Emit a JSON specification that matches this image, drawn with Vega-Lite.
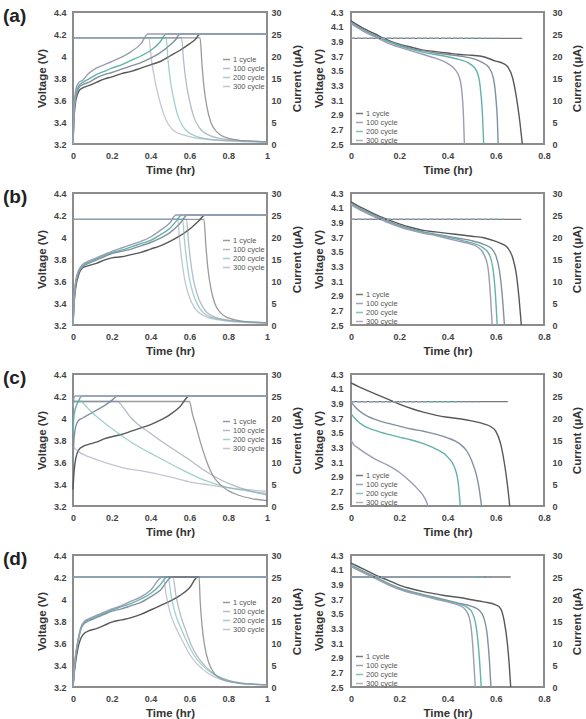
{
"$schema":"https://vega.github.io/schema/vega-lite/v6.json",
"background":"white",
"padding":{"left":2,"top":6,"right":0,"bottom":0},
"config":{
"view":{"stroke":"#8c8c8c","strokeWidth":2},
"axis":{"grid":false,"ticks":false,"domain":false,"labelFlush":false,"labelOverlap":false,"labelFont":"Liberation Sans","labelFontSize":9,"labelFontWeight":"bold","labelColor":"#444","titleFont":"Liberation Sans","titleFontSize":11.5,"titleFontWeight":"bold","titleColor":"#333"},
"legend":{"symbolType":"stroke","symbolSize":50,"symbolStrokeWidth":1.5,"labelFont":"Liberation Sans","labelFontSize":7.5,"labelColor":"#555","labelOffset":2,"rowPadding":1,"padding":0,"titlePadding":0},
"title":{"font":"Liberation Sans","fontSize":19,"fontWeight":"bold","color":"#222"}
},
"data":{"values":[
{"p":"a1","s":1,"k":"V","t":0,"y":3.2},{"p":"a1","s":1,"k":"V","t":0.005,"y":3.42},{"p":"a1","s":1,"k":"V","t":0.015,"y":3.6},{"p":"a1","s":1,"k":"V","t":0.03,"y":3.68},{"p":"a1","s":1,"k":"V","t":0.05,"y":3.71},{"p":"a1","s":1,"k":"V","t":0.08,"y":3.73},{"p":"a1","s":1,"k":"V","t":0.12,"y":3.76},{"p":"a1","s":1,"k":"V","t":0.16,"y":3.79},{"p":"a1","s":1,"k":"V","t":0.2,"y":3.81},{"p":"a1","s":1,"k":"V","t":0.25,"y":3.84},{"p":"a1","s":1,"k":"V","t":0.3,"y":3.86},{"p":"a1","s":1,"k":"V","t":0.35,"y":3.89},{"p":"a1","s":1,"k":"V","t":0.4,"y":3.92},{"p":"a1","s":1,"k":"V","t":0.45,"y":3.95},{"p":"a1","s":1,"k":"V","t":0.5,"y":4.0},{"p":"a1","s":1,"k":"V","t":0.55,"y":4.05},{"p":"a1","s":1,"k":"V","t":0.6,"y":4.11},{"p":"a1","s":1,"k":"V","t":0.63,"y":4.15},{"p":"a1","s":1,"k":"V","t":0.655,"y":4.2},{"p":"a1","s":1,"k":"V","t":1,"y":4.2},
{"p":"a1","s":100,"k":"V","t":0,"y":3.2},{"p":"a1","s":100,"k":"V","t":0.005,"y":3.45},{"p":"a1","s":100,"k":"V","t":0.015,"y":3.63},{"p":"a1","s":100,"k":"V","t":0.03,"y":3.71},{"p":"a1","s":100,"k":"V","t":0.05,"y":3.74},{"p":"a1","s":100,"k":"V","t":0.08,"y":3.76},{"p":"a1","s":100,"k":"V","t":0.12,"y":3.8},{"p":"a1","s":100,"k":"V","t":0.16,"y":3.83},{"p":"a1","s":100,"k":"V","t":0.2,"y":3.85},{"p":"a1","s":100,"k":"V","t":0.25,"y":3.88},{"p":"a1","s":100,"k":"V","t":0.3,"y":3.91},{"p":"a1","s":100,"k":"V","t":0.35,"y":3.94},{"p":"a1","s":100,"k":"V","t":0.4,"y":3.98},{"p":"a1","s":100,"k":"V","t":0.45,"y":4.03},{"p":"a1","s":100,"k":"V","t":0.5,"y":4.1},{"p":"a1","s":100,"k":"V","t":0.53,"y":4.15},{"p":"a1","s":100,"k":"V","t":0.55,"y":4.2},{"p":"a1","s":100,"k":"V","t":1,"y":4.2},
{"p":"a1","s":200,"k":"V","t":0,"y":3.2},{"p":"a1","s":200,"k":"V","t":0.005,"y":3.48},{"p":"a1","s":200,"k":"V","t":0.015,"y":3.66},{"p":"a1","s":200,"k":"V","t":0.03,"y":3.73},{"p":"a1","s":200,"k":"V","t":0.05,"y":3.76},{"p":"a1","s":200,"k":"V","t":0.08,"y":3.79},{"p":"a1","s":200,"k":"V","t":0.12,"y":3.83},{"p":"a1","s":200,"k":"V","t":0.16,"y":3.86},{"p":"a1","s":200,"k":"V","t":0.2,"y":3.89},{"p":"a1","s":200,"k":"V","t":0.25,"y":3.92},{"p":"a1","s":200,"k":"V","t":0.3,"y":3.96},{"p":"a1","s":200,"k":"V","t":0.35,"y":4.0},{"p":"a1","s":200,"k":"V","t":0.4,"y":4.05},{"p":"a1","s":200,"k":"V","t":0.45,"y":4.13},{"p":"a1","s":200,"k":"V","t":0.48,"y":4.2},{"p":"a1","s":200,"k":"V","t":1,"y":4.2},
{"p":"a1","s":300,"k":"V","t":0,"y":3.2},{"p":"a1","s":300,"k":"V","t":0.005,"y":3.5},{"p":"a1","s":300,"k":"V","t":0.015,"y":3.7},{"p":"a1","s":300,"k":"V","t":0.03,"y":3.76},{"p":"a1","s":300,"k":"V","t":0.05,"y":3.78},{"p":"a1","s":300,"k":"V","t":0.08,"y":3.84},{"p":"a1","s":300,"k":"V","t":0.12,"y":3.89},{"p":"a1","s":300,"k":"V","t":0.16,"y":3.92},{"p":"a1","s":300,"k":"V","t":0.2,"y":3.95},{"p":"a1","s":300,"k":"V","t":0.25,"y":3.99},{"p":"a1","s":300,"k":"V","t":0.3,"y":4.04},{"p":"a1","s":300,"k":"V","t":0.35,"y":4.11},{"p":"a1","s":300,"k":"V","t":0.387,"y":4.2},{"p":"a1","s":300,"k":"V","t":1,"y":4.2},
{"p":"a1","s":1,"k":"I","t":0,"y":24.1},{"p":"a1","s":1,"k":"I","t":0.655,"y":24.1},{"p":"a1","s":1,"k":"I","t":0.665,"y":18},{"p":"a1","s":1,"k":"I","t":0.675,"y":13},{"p":"a1","s":1,"k":"I","t":0.69,"y":8.5},{"p":"a1","s":1,"k":"I","t":0.71,"y":5},{"p":"a1","s":1,"k":"I","t":0.74,"y":2.8},{"p":"a1","s":1,"k":"I","t":0.78,"y":1.6},{"p":"a1","s":1,"k":"I","t":0.85,"y":0.9},{"p":"a1","s":1,"k":"I","t":1,"y":0.5},
{"p":"a1","s":100,"k":"I","t":0,"y":24.1},{"p":"a1","s":100,"k":"I","t":0.56,"y":24.1},{"p":"a1","s":100,"k":"I","t":0.57,"y":19},{"p":"a1","s":100,"k":"I","t":0.58,"y":15},{"p":"a1","s":100,"k":"I","t":0.6,"y":10},{"p":"a1","s":100,"k":"I","t":0.62,"y":6.5},{"p":"a1","s":100,"k":"I","t":0.65,"y":3.8},{"p":"a1","s":100,"k":"I","t":0.7,"y":2},{"p":"a1","s":100,"k":"I","t":0.78,"y":1.1},{"p":"a1","s":100,"k":"I","t":0.9,"y":0.7},{"p":"a1","s":100,"k":"I","t":1,"y":0.5},
{"p":"a1","s":200,"k":"I","t":0,"y":24.1},{"p":"a1","s":200,"k":"I","t":0.48,"y":24.1},{"p":"a1","s":200,"k":"I","t":0.49,"y":19},{"p":"a1","s":200,"k":"I","t":0.5,"y":15},{"p":"a1","s":200,"k":"I","t":0.52,"y":10},{"p":"a1","s":200,"k":"I","t":0.54,"y":6.5},{"p":"a1","s":200,"k":"I","t":0.57,"y":3.8},{"p":"a1","s":200,"k":"I","t":0.62,"y":2},{"p":"a1","s":200,"k":"I","t":0.7,"y":1.1},{"p":"a1","s":200,"k":"I","t":0.85,"y":0.7},{"p":"a1","s":200,"k":"I","t":1,"y":0.5},
{"p":"a1","s":300,"k":"I","t":0,"y":24.1},{"p":"a1","s":300,"k":"I","t":0.39,"y":24.1},{"p":"a1","s":300,"k":"I","t":0.405,"y":19},{"p":"a1","s":300,"k":"I","t":0.42,"y":15},{"p":"a1","s":300,"k":"I","t":0.44,"y":11},{"p":"a1","s":300,"k":"I","t":0.47,"y":6.5},{"p":"a1","s":300,"k":"I","t":0.52,"y":3},{"p":"a1","s":300,"k":"I","t":0.59,"y":1.8},{"p":"a1","s":300,"k":"I","t":0.7,"y":1},{"p":"a1","s":300,"k":"I","t":0.85,"y":0.6},{"p":"a1","s":300,"k":"I","t":1,"y":0.45},

{"p":"a2","s":1,"k":"V","t":0,"y":4.18},{"p":"a2","s":1,"k":"V","t":0.05,"y":4.08},{"p":"a2","s":1,"k":"V","t":0.1,"y":4.0},{"p":"a2","s":1,"k":"V","t":0.15,"y":3.92},{"p":"a2","s":1,"k":"V","t":0.2,"y":3.86},{"p":"a2","s":1,"k":"V","t":0.25,"y":3.82},{"p":"a2","s":1,"k":"V","t":0.3,"y":3.78},{"p":"a2","s":1,"k":"V","t":0.35,"y":3.76},{"p":"a2","s":1,"k":"V","t":0.4,"y":3.74},{"p":"a2","s":1,"k":"V","t":0.45,"y":3.72},{"p":"a2","s":1,"k":"V","t":0.5,"y":3.71},{"p":"a2","s":1,"k":"V","t":0.55,"y":3.69},{"p":"a2","s":1,"k":"V","t":0.6,"y":3.63},{"p":"a2","s":1,"k":"V","t":0.63,"y":3.6},{"p":"a2","s":1,"k":"V","t":0.65,"y":3.55},{"p":"a2","s":1,"k":"V","t":0.67,"y":3.4},{"p":"a2","s":1,"k":"V","t":0.685,"y":3.15},{"p":"a2","s":1,"k":"V","t":0.7,"y":2.8},{"p":"a2","s":1,"k":"V","t":0.71,"y":2.5},
{"p":"a2","s":100,"k":"V","t":0,"y":4.16},{"p":"a2","s":100,"k":"V","t":0.05,"y":4.06},{"p":"a2","s":100,"k":"V","t":0.1,"y":3.98},{"p":"a2","s":100,"k":"V","t":0.15,"y":3.91},{"p":"a2","s":100,"k":"V","t":0.2,"y":3.85},{"p":"a2","s":100,"k":"V","t":0.25,"y":3.8},{"p":"a2","s":100,"k":"V","t":0.3,"y":3.77},{"p":"a2","s":100,"k":"V","t":0.35,"y":3.74},{"p":"a2","s":100,"k":"V","t":0.4,"y":3.72},{"p":"a2","s":100,"k":"V","t":0.45,"y":3.7},{"p":"a2","s":100,"k":"V","t":0.5,"y":3.67},{"p":"a2","s":100,"k":"V","t":0.54,"y":3.62},{"p":"a2","s":100,"k":"V","t":0.57,"y":3.55},{"p":"a2","s":100,"k":"V","t":0.59,"y":3.4},{"p":"a2","s":100,"k":"V","t":0.6,"y":3.15},{"p":"a2","s":100,"k":"V","t":0.607,"y":2.8},{"p":"a2","s":100,"k":"V","t":0.61,"y":2.5},
{"p":"a2","s":200,"k":"V","t":0,"y":4.15},{"p":"a2","s":200,"k":"V","t":0.05,"y":4.05},{"p":"a2","s":200,"k":"V","t":0.1,"y":3.97},{"p":"a2","s":200,"k":"V","t":0.15,"y":3.9},{"p":"a2","s":200,"k":"V","t":0.2,"y":3.84},{"p":"a2","s":200,"k":"V","t":0.25,"y":3.79},{"p":"a2","s":200,"k":"V","t":0.3,"y":3.75},{"p":"a2","s":200,"k":"V","t":0.35,"y":3.72},{"p":"a2","s":200,"k":"V","t":0.4,"y":3.69},{"p":"a2","s":200,"k":"V","t":0.45,"y":3.65},{"p":"a2","s":200,"k":"V","t":0.49,"y":3.6},{"p":"a2","s":200,"k":"V","t":0.52,"y":3.5},{"p":"a2","s":200,"k":"V","t":0.535,"y":3.3},{"p":"a2","s":200,"k":"V","t":0.545,"y":2.9},{"p":"a2","s":200,"k":"V","t":0.55,"y":2.5},
{"p":"a2","s":300,"k":"V","t":0,"y":4.14},{"p":"a2","s":300,"k":"V","t":0.05,"y":4.04},{"p":"a2","s":300,"k":"V","t":0.1,"y":3.96},{"p":"a2","s":300,"k":"V","t":0.15,"y":3.88},{"p":"a2","s":300,"k":"V","t":0.2,"y":3.82},{"p":"a2","s":300,"k":"V","t":0.25,"y":3.77},{"p":"a2","s":300,"k":"V","t":0.3,"y":3.72},{"p":"a2","s":300,"k":"V","t":0.35,"y":3.67},{"p":"a2","s":300,"k":"V","t":0.4,"y":3.6},{"p":"a2","s":300,"k":"V","t":0.43,"y":3.52},{"p":"a2","s":300,"k":"V","t":0.45,"y":3.4},{"p":"a2","s":300,"k":"V","t":0.46,"y":3.2},{"p":"a2","s":300,"k":"V","t":0.466,"y":2.9},{"p":"a2","s":300,"k":"V","t":0.47,"y":2.5},
{"p":"a2","s":1,"k":"I","t":0,"y":24},{"p":"a2","s":1,"k":"I","t":0.71,"y":24},
{"p":"a2","s":100,"k":"I","t":0,"y":24},{"p":"a2","s":100,"k":"I","t":0.61,"y":24},
{"p":"a2","s":200,"k":"I","t":0,"y":24},{"p":"a2","s":200,"k":"I","t":0.55,"y":24},
{"p":"a2","s":300,"k":"I","t":0,"y":24},{"p":"a2","s":300,"k":"I","t":0.47,"y":24},

{"p":"b1","s":1,"k":"V","t":0,"y":3.2},{"p":"b1","s":1,"k":"V","t":0.005,"y":3.38},{"p":"b1","s":1,"k":"V","t":0.015,"y":3.55},{"p":"b1","s":1,"k":"V","t":0.03,"y":3.66},{"p":"b1","s":1,"k":"V","t":0.05,"y":3.72},{"p":"b1","s":1,"k":"V","t":0.08,"y":3.74},{"p":"b1","s":1,"k":"V","t":0.12,"y":3.76},{"p":"b1","s":1,"k":"V","t":0.16,"y":3.79},{"p":"b1","s":1,"k":"V","t":0.2,"y":3.81},{"p":"b1","s":1,"k":"V","t":0.25,"y":3.82},{"p":"b1","s":1,"k":"V","t":0.3,"y":3.84},{"p":"b1","s":1,"k":"V","t":0.35,"y":3.86},{"p":"b1","s":1,"k":"V","t":0.4,"y":3.89},{"p":"b1","s":1,"k":"V","t":0.45,"y":3.92},{"p":"b1","s":1,"k":"V","t":0.5,"y":3.96},{"p":"b1","s":1,"k":"V","t":0.55,"y":4.01},{"p":"b1","s":1,"k":"V","t":0.6,"y":4.07},{"p":"b1","s":1,"k":"V","t":0.65,"y":4.15},{"p":"b1","s":1,"k":"V","t":0.68,"y":4.2},{"p":"b1","s":1,"k":"V","t":1,"y":4.2},
{"p":"b1","s":100,"k":"V","t":0,"y":3.2},{"p":"b1","s":100,"k":"V","t":0.005,"y":3.4},{"p":"b1","s":100,"k":"V","t":0.015,"y":3.58},{"p":"b1","s":100,"k":"V","t":0.03,"y":3.68},{"p":"b1","s":100,"k":"V","t":0.05,"y":3.73},{"p":"b1","s":100,"k":"V","t":0.08,"y":3.76},{"p":"b1","s":100,"k":"V","t":0.12,"y":3.79},{"p":"b1","s":100,"k":"V","t":0.16,"y":3.82},{"p":"b1","s":100,"k":"V","t":0.2,"y":3.85},{"p":"b1","s":100,"k":"V","t":0.25,"y":3.87},{"p":"b1","s":100,"k":"V","t":0.3,"y":3.89},{"p":"b1","s":100,"k":"V","t":0.35,"y":3.92},{"p":"b1","s":100,"k":"V","t":0.4,"y":3.95},{"p":"b1","s":100,"k":"V","t":0.45,"y":3.99},{"p":"b1","s":100,"k":"V","t":0.5,"y":4.04},{"p":"b1","s":100,"k":"V","t":0.55,"y":4.12},{"p":"b1","s":100,"k":"V","t":0.59,"y":4.2},{"p":"b1","s":100,"k":"V","t":1,"y":4.2},
{"p":"b1","s":200,"k":"V","t":0,"y":3.2},{"p":"b1","s":200,"k":"V","t":0.005,"y":3.41},{"p":"b1","s":200,"k":"V","t":0.015,"y":3.6},{"p":"b1","s":200,"k":"V","t":0.03,"y":3.69},{"p":"b1","s":200,"k":"V","t":0.05,"y":3.74},{"p":"b1","s":200,"k":"V","t":0.08,"y":3.77},{"p":"b1","s":200,"k":"V","t":0.12,"y":3.8},{"p":"b1","s":200,"k":"V","t":0.16,"y":3.83},{"p":"b1","s":200,"k":"V","t":0.2,"y":3.86},{"p":"b1","s":200,"k":"V","t":0.25,"y":3.88},{"p":"b1","s":200,"k":"V","t":0.3,"y":3.91},{"p":"b1","s":200,"k":"V","t":0.35,"y":3.94},{"p":"b1","s":200,"k":"V","t":0.4,"y":3.97},{"p":"b1","s":200,"k":"V","t":0.45,"y":4.02},{"p":"b1","s":200,"k":"V","t":0.5,"y":4.08},{"p":"b1","s":200,"k":"V","t":0.53,"y":4.14},{"p":"b1","s":200,"k":"V","t":0.56,"y":4.2},{"p":"b1","s":200,"k":"V","t":1,"y":4.2},
{"p":"b1","s":300,"k":"V","t":0,"y":3.2},{"p":"b1","s":300,"k":"V","t":0.005,"y":3.42},{"p":"b1","s":300,"k":"V","t":0.015,"y":3.61},{"p":"b1","s":300,"k":"V","t":0.03,"y":3.7},{"p":"b1","s":300,"k":"V","t":0.05,"y":3.75},{"p":"b1","s":300,"k":"V","t":0.08,"y":3.78},{"p":"b1","s":300,"k":"V","t":0.12,"y":3.81},{"p":"b1","s":300,"k":"V","t":0.16,"y":3.84},{"p":"b1","s":300,"k":"V","t":0.2,"y":3.87},{"p":"b1","s":300,"k":"V","t":0.25,"y":3.9},{"p":"b1","s":300,"k":"V","t":0.3,"y":3.93},{"p":"b1","s":300,"k":"V","t":0.35,"y":3.96},{"p":"b1","s":300,"k":"V","t":0.4,"y":4.0},{"p":"b1","s":300,"k":"V","t":0.45,"y":4.06},{"p":"b1","s":300,"k":"V","t":0.5,"y":4.13},{"p":"b1","s":300,"k":"V","t":0.53,"y":4.2},{"p":"b1","s":300,"k":"V","t":1,"y":4.2},
{"p":"b1","s":1,"k":"I","t":0,"y":24},{"p":"b1","s":1,"k":"I","t":0.675,"y":24},{"p":"b1","s":1,"k":"I","t":0.685,"y":18},{"p":"b1","s":1,"k":"I","t":0.695,"y":13},{"p":"b1","s":1,"k":"I","t":0.71,"y":8.5},{"p":"b1","s":1,"k":"I","t":0.73,"y":5},{"p":"b1","s":1,"k":"I","t":0.76,"y":2.8},{"p":"b1","s":1,"k":"I","t":0.8,"y":1.6},{"p":"b1","s":1,"k":"I","t":0.87,"y":0.9},{"p":"b1","s":1,"k":"I","t":1,"y":0.5},
{"p":"b1","s":100,"k":"I","t":0,"y":24},{"p":"b1","s":100,"k":"I","t":0.585,"y":24},{"p":"b1","s":100,"k":"I","t":0.595,"y":19},{"p":"b1","s":100,"k":"I","t":0.605,"y":15},{"p":"b1","s":100,"k":"I","t":0.62,"y":10.5},{"p":"b1","s":100,"k":"I","t":0.64,"y":7},{"p":"b1","s":100,"k":"I","t":0.67,"y":4},{"p":"b1","s":100,"k":"I","t":0.72,"y":2},{"p":"b1","s":100,"k":"I","t":0.8,"y":1.1},{"p":"b1","s":100,"k":"I","t":0.9,"y":0.7},{"p":"b1","s":100,"k":"I","t":1,"y":0.5},
{"p":"b1","s":200,"k":"I","t":0,"y":24},{"p":"b1","s":200,"k":"I","t":0.565,"y":24},{"p":"b1","s":200,"k":"I","t":0.575,"y":19},{"p":"b1","s":200,"k":"I","t":0.585,"y":15},{"p":"b1","s":200,"k":"I","t":0.6,"y":10.5},{"p":"b1","s":200,"k":"I","t":0.62,"y":7},{"p":"b1","s":200,"k":"I","t":0.65,"y":4},{"p":"b1","s":200,"k":"I","t":0.7,"y":2},{"p":"b1","s":200,"k":"I","t":0.78,"y":1.1},{"p":"b1","s":200,"k":"I","t":0.9,"y":0.7},{"p":"b1","s":200,"k":"I","t":1,"y":0.5},
{"p":"b1","s":300,"k":"I","t":0,"y":24},{"p":"b1","s":300,"k":"I","t":0.54,"y":24},{"p":"b1","s":300,"k":"I","t":0.55,"y":19},{"p":"b1","s":300,"k":"I","t":0.56,"y":15},{"p":"b1","s":300,"k":"I","t":0.575,"y":10.5},{"p":"b1","s":300,"k":"I","t":0.595,"y":7},{"p":"b1","s":300,"k":"I","t":0.625,"y":4},{"p":"b1","s":300,"k":"I","t":0.68,"y":2},{"p":"b1","s":300,"k":"I","t":0.76,"y":1.1},{"p":"b1","s":300,"k":"I","t":0.88,"y":0.6},{"p":"b1","s":300,"k":"I","t":1,"y":0.45},

{"p":"b2","s":1,"k":"V","t":0,"y":4.18},{"p":"b2","s":1,"k":"V","t":0.05,"y":4.09},{"p":"b2","s":1,"k":"V","t":0.1,"y":4.01},{"p":"b2","s":1,"k":"V","t":0.15,"y":3.94},{"p":"b2","s":1,"k":"V","t":0.2,"y":3.88},{"p":"b2","s":1,"k":"V","t":0.25,"y":3.83},{"p":"b2","s":1,"k":"V","t":0.3,"y":3.79},{"p":"b2","s":1,"k":"V","t":0.35,"y":3.77},{"p":"b2","s":1,"k":"V","t":0.4,"y":3.75},{"p":"b2","s":1,"k":"V","t":0.45,"y":3.73},{"p":"b2","s":1,"k":"V","t":0.5,"y":3.71},{"p":"b2","s":1,"k":"V","t":0.55,"y":3.69},{"p":"b2","s":1,"k":"V","t":0.6,"y":3.64},{"p":"b2","s":1,"k":"V","t":0.63,"y":3.6},{"p":"b2","s":1,"k":"V","t":0.65,"y":3.55},{"p":"b2","s":1,"k":"V","t":0.67,"y":3.42},{"p":"b2","s":1,"k":"V","t":0.685,"y":3.2},{"p":"b2","s":1,"k":"V","t":0.697,"y":2.85},{"p":"b2","s":1,"k":"V","t":0.706,"y":2.5},
{"p":"b2","s":100,"k":"V","t":0,"y":4.16},{"p":"b2","s":100,"k":"V","t":0.05,"y":4.07},{"p":"b2","s":100,"k":"V","t":0.1,"y":3.99},{"p":"b2","s":100,"k":"V","t":0.15,"y":3.92},{"p":"b2","s":100,"k":"V","t":0.2,"y":3.86},{"p":"b2","s":100,"k":"V","t":0.25,"y":3.81},{"p":"b2","s":100,"k":"V","t":0.3,"y":3.77},{"p":"b2","s":100,"k":"V","t":0.35,"y":3.74},{"p":"b2","s":100,"k":"V","t":0.4,"y":3.71},{"p":"b2","s":100,"k":"V","t":0.45,"y":3.68},{"p":"b2","s":100,"k":"V","t":0.5,"y":3.65},{"p":"b2","s":100,"k":"V","t":0.55,"y":3.6},{"p":"b2","s":100,"k":"V","t":0.58,"y":3.55},{"p":"b2","s":100,"k":"V","t":0.6,"y":3.45},{"p":"b2","s":100,"k":"V","t":0.615,"y":3.25},{"p":"b2","s":100,"k":"V","t":0.627,"y":2.9},{"p":"b2","s":100,"k":"V","t":0.636,"y":2.5},
{"p":"b2","s":200,"k":"V","t":0,"y":4.15},{"p":"b2","s":200,"k":"V","t":0.05,"y":4.06},{"p":"b2","s":200,"k":"V","t":0.1,"y":3.98},{"p":"b2","s":200,"k":"V","t":0.15,"y":3.91},{"p":"b2","s":200,"k":"V","t":0.2,"y":3.85},{"p":"b2","s":200,"k":"V","t":0.25,"y":3.8},{"p":"b2","s":200,"k":"V","t":0.3,"y":3.76},{"p":"b2","s":200,"k":"V","t":0.35,"y":3.73},{"p":"b2","s":200,"k":"V","t":0.4,"y":3.7},{"p":"b2","s":200,"k":"V","t":0.45,"y":3.66},{"p":"b2","s":200,"k":"V","t":0.5,"y":3.62},{"p":"b2","s":200,"k":"V","t":0.54,"y":3.57},{"p":"b2","s":200,"k":"V","t":0.57,"y":3.48},{"p":"b2","s":200,"k":"V","t":0.587,"y":3.3},{"p":"b2","s":200,"k":"V","t":0.598,"y":2.95},{"p":"b2","s":200,"k":"V","t":0.606,"y":2.5},
{"p":"b2","s":300,"k":"V","t":0,"y":4.14},{"p":"b2","s":300,"k":"V","t":0.05,"y":4.05},{"p":"b2","s":300,"k":"V","t":0.1,"y":3.97},{"p":"b2","s":300,"k":"V","t":0.15,"y":3.9},{"p":"b2","s":300,"k":"V","t":0.2,"y":3.84},{"p":"b2","s":300,"k":"V","t":0.25,"y":3.79},{"p":"b2","s":300,"k":"V","t":0.3,"y":3.75},{"p":"b2","s":300,"k":"V","t":0.35,"y":3.72},{"p":"b2","s":300,"k":"V","t":0.4,"y":3.68},{"p":"b2","s":300,"k":"V","t":0.45,"y":3.64},{"p":"b2","s":300,"k":"V","t":0.5,"y":3.6},{"p":"b2","s":300,"k":"V","t":0.53,"y":3.55},{"p":"b2","s":300,"k":"V","t":0.55,"y":3.47},{"p":"b2","s":300,"k":"V","t":0.567,"y":3.3},{"p":"b2","s":300,"k":"V","t":0.577,"y":2.95},{"p":"b2","s":300,"k":"V","t":0.585,"y":2.5},
{"p":"b2","s":1,"k":"I","t":0,"y":24},{"p":"b2","s":1,"k":"I","t":0.706,"y":24},
{"p":"b2","s":100,"k":"I","t":0,"y":24},{"p":"b2","s":100,"k":"I","t":0.636,"y":24},
{"p":"b2","s":200,"k":"I","t":0,"y":24},{"p":"b2","s":200,"k":"I","t":0.606,"y":24},
{"p":"b2","s":300,"k":"I","t":0,"y":24},{"p":"b2","s":300,"k":"I","t":0.585,"y":24},

{"p":"c1","s":1,"k":"V","t":0,"y":3.35},{"p":"c1","s":1,"k":"V","t":0.005,"y":3.5},{"p":"c1","s":1,"k":"V","t":0.015,"y":3.64},{"p":"c1","s":1,"k":"V","t":0.03,"y":3.71},{"p":"c1","s":1,"k":"V","t":0.05,"y":3.74},{"p":"c1","s":1,"k":"V","t":0.08,"y":3.76},{"p":"c1","s":1,"k":"V","t":0.12,"y":3.78},{"p":"c1","s":1,"k":"V","t":0.16,"y":3.81},{"p":"c1","s":1,"k":"V","t":0.2,"y":3.83},{"p":"c1","s":1,"k":"V","t":0.25,"y":3.85},{"p":"c1","s":1,"k":"V","t":0.3,"y":3.88},{"p":"c1","s":1,"k":"V","t":0.35,"y":3.91},{"p":"c1","s":1,"k":"V","t":0.4,"y":3.94},{"p":"c1","s":1,"k":"V","t":0.45,"y":3.98},{"p":"c1","s":1,"k":"V","t":0.5,"y":4.03},{"p":"c1","s":1,"k":"V","t":0.55,"y":4.1},{"p":"c1","s":1,"k":"V","t":0.6,"y":4.2},{"p":"c1","s":1,"k":"V","t":1,"y":4.2},
{"p":"c1","s":100,"k":"V","t":0,"y":3.6},{"p":"c1","s":100,"k":"V","t":0.005,"y":3.8},{"p":"c1","s":100,"k":"V","t":0.015,"y":3.93},{"p":"c1","s":100,"k":"V","t":0.03,"y":3.98},{"p":"c1","s":100,"k":"V","t":0.05,"y":4.0},{"p":"c1","s":100,"k":"V","t":0.08,"y":4.03},{"p":"c1","s":100,"k":"V","t":0.12,"y":4.07},{"p":"c1","s":100,"k":"V","t":0.16,"y":4.11},{"p":"c1","s":100,"k":"V","t":0.2,"y":4.16},{"p":"c1","s":100,"k":"V","t":0.23,"y":4.2},{"p":"c1","s":100,"k":"V","t":1,"y":4.2},
{"p":"c1","s":200,"k":"V","t":0,"y":3.85},{"p":"c1","s":200,"k":"V","t":0.005,"y":4.02},{"p":"c1","s":200,"k":"V","t":0.015,"y":4.1},{"p":"c1","s":200,"k":"V","t":0.03,"y":4.16},{"p":"c1","s":200,"k":"V","t":0.045,"y":4.2},{"p":"c1","s":200,"k":"V","t":1,"y":4.2},
{"p":"c1","s":300,"k":"V","t":0,"y":4.1},{"p":"c1","s":300,"k":"V","t":0.005,"y":4.18},{"p":"c1","s":300,"k":"V","t":0.01,"y":4.2},{"p":"c1","s":300,"k":"V","t":1,"y":4.2},
{"p":"c1","s":1,"k":"I","t":0,"y":23.75},{"p":"c1","s":1,"k":"I","t":0.6,"y":23.75},{"p":"c1","s":1,"k":"I","t":0.615,"y":21},{"p":"c1","s":1,"k":"I","t":0.635,"y":18},{"p":"c1","s":1,"k":"I","t":0.66,"y":14},{"p":"c1","s":1,"k":"I","t":0.69,"y":10},{"p":"c1","s":1,"k":"I","t":0.72,"y":7},{"p":"c1","s":1,"k":"I","t":0.76,"y":4.8},{"p":"c1","s":1,"k":"I","t":0.8,"y":3.5},{"p":"c1","s":1,"k":"I","t":0.85,"y":2.5},{"p":"c1","s":1,"k":"I","t":0.92,"y":1.7},{"p":"c1","s":1,"k":"I","t":1,"y":1.2},
{"p":"c1","s":100,"k":"I","t":0,"y":23.75},{"p":"c1","s":100,"k":"I","t":0.23,"y":23.75},{"p":"c1","s":100,"k":"I","t":0.26,"y":22.3},{"p":"c1","s":100,"k":"I","t":0.3,"y":20},{"p":"c1","s":100,"k":"I","t":0.4,"y":16.5},{"p":"c1","s":100,"k":"I","t":0.5,"y":13.4},{"p":"c1","s":100,"k":"I","t":0.6,"y":10.5},{"p":"c1","s":100,"k":"I","t":0.68,"y":8},{"p":"c1","s":100,"k":"I","t":0.75,"y":6.2},{"p":"c1","s":100,"k":"I","t":0.85,"y":4.3},{"p":"c1","s":100,"k":"I","t":0.93,"y":3.2},{"p":"c1","s":100,"k":"I","t":1,"y":2.5},
{"p":"c1","s":200,"k":"I","t":0,"y":23.75},{"p":"c1","s":200,"k":"I","t":0.045,"y":23.75},{"p":"c1","s":200,"k":"I","t":0.06,"y":23},{"p":"c1","s":200,"k":"I","t":0.1,"y":21.2},{"p":"c1","s":200,"k":"I","t":0.15,"y":19.3},{"p":"c1","s":200,"k":"I","t":0.2,"y":17.6},{"p":"c1","s":200,"k":"I","t":0.3,"y":14.5},{"p":"c1","s":200,"k":"I","t":0.43,"y":11.3},{"p":"c1","s":200,"k":"I","t":0.55,"y":8.5},{"p":"c1","s":200,"k":"I","t":0.68,"y":5.8},{"p":"c1","s":200,"k":"I","t":0.8,"y":4.2},{"p":"c1","s":200,"k":"I","t":0.9,"y":3.4},{"p":"c1","s":200,"k":"I","t":1,"y":2.8},
{"p":"c1","s":300,"k":"I","t":0,"y":13.5},{"p":"c1","s":300,"k":"I","t":0.03,"y":12.3},{"p":"c1","s":300,"k":"I","t":0.08,"y":11.2},{"p":"c1","s":300,"k":"I","t":0.15,"y":10.1},{"p":"c1","s":300,"k":"I","t":0.25,"y":8.8},{"p":"c1","s":300,"k":"I","t":0.4,"y":7.6},{"p":"c1","s":300,"k":"I","t":0.5,"y":6.6},{"p":"c1","s":300,"k":"I","t":0.6,"y":5.5},{"p":"c1","s":300,"k":"I","t":0.7,"y":4.8},{"p":"c1","s":300,"k":"I","t":0.8,"y":4.2},{"p":"c1","s":300,"k":"I","t":0.9,"y":3.7},{"p":"c1","s":300,"k":"I","t":1,"y":3.3},

{"p":"c2","s":1,"k":"V","t":0,"y":4.18},{"p":"c2","s":1,"k":"V","t":0.05,"y":4.1},{"p":"c2","s":1,"k":"V","t":0.1,"y":4.03},{"p":"c2","s":1,"k":"V","t":0.15,"y":3.96},{"p":"c2","s":1,"k":"V","t":0.2,"y":3.89},{"p":"c2","s":1,"k":"V","t":0.25,"y":3.83},{"p":"c2","s":1,"k":"V","t":0.3,"y":3.78},{"p":"c2","s":1,"k":"V","t":0.35,"y":3.74},{"p":"c2","s":1,"k":"V","t":0.4,"y":3.71},{"p":"c2","s":1,"k":"V","t":0.45,"y":3.69},{"p":"c2","s":1,"k":"V","t":0.5,"y":3.66},{"p":"c2","s":1,"k":"V","t":0.55,"y":3.62},{"p":"c2","s":1,"k":"V","t":0.58,"y":3.58},{"p":"c2","s":1,"k":"V","t":0.6,"y":3.52},{"p":"c2","s":1,"k":"V","t":0.62,"y":3.35},{"p":"c2","s":1,"k":"V","t":0.635,"y":3.1},{"p":"c2","s":1,"k":"V","t":0.648,"y":2.8},{"p":"c2","s":1,"k":"V","t":0.658,"y":2.5},
{"p":"c2","s":100,"k":"V","t":0,"y":3.92},{"p":"c2","s":100,"k":"V","t":0.02,"y":3.84},{"p":"c2","s":100,"k":"V","t":0.05,"y":3.76},{"p":"c2","s":100,"k":"V","t":0.1,"y":3.68},{"p":"c2","s":100,"k":"V","t":0.15,"y":3.63},{"p":"c2","s":100,"k":"V","t":0.2,"y":3.59},{"p":"c2","s":100,"k":"V","t":0.25,"y":3.55},{"p":"c2","s":100,"k":"V","t":0.3,"y":3.52},{"p":"c2","s":100,"k":"V","t":0.35,"y":3.48},{"p":"c2","s":100,"k":"V","t":0.4,"y":3.43},{"p":"c2","s":100,"k":"V","t":0.45,"y":3.35},{"p":"c2","s":100,"k":"V","t":0.48,"y":3.25},{"p":"c2","s":100,"k":"V","t":0.5,"y":3.12},{"p":"c2","s":100,"k":"V","t":0.52,"y":2.92},{"p":"c2","s":100,"k":"V","t":0.532,"y":2.72},{"p":"c2","s":100,"k":"V","t":0.541,"y":2.5},
{"p":"c2","s":200,"k":"V","t":0,"y":3.76},{"p":"c2","s":200,"k":"V","t":0.02,"y":3.68},{"p":"c2","s":200,"k":"V","t":0.05,"y":3.6},{"p":"c2","s":200,"k":"V","t":0.1,"y":3.53},{"p":"c2","s":200,"k":"V","t":0.15,"y":3.48},{"p":"c2","s":200,"k":"V","t":0.2,"y":3.44},{"p":"c2","s":200,"k":"V","t":0.25,"y":3.4},{"p":"c2","s":200,"k":"V","t":0.3,"y":3.35},{"p":"c2","s":200,"k":"V","t":0.35,"y":3.28},{"p":"c2","s":200,"k":"V","t":0.4,"y":3.17},{"p":"c2","s":200,"k":"V","t":0.43,"y":3.02},{"p":"c2","s":200,"k":"V","t":0.445,"y":2.8},{"p":"c2","s":200,"k":"V","t":0.453,"y":2.5},
{"p":"c2","s":300,"k":"V","t":0,"y":3.4},{"p":"c2","s":300,"k":"V","t":0.01,"y":3.34},{"p":"c2","s":300,"k":"V","t":0.03,"y":3.29},{"p":"c2","s":300,"k":"V","t":0.06,"y":3.22},{"p":"c2","s":300,"k":"V","t":0.1,"y":3.14},{"p":"c2","s":300,"k":"V","t":0.15,"y":3.06},{"p":"c2","s":300,"k":"V","t":0.2,"y":2.96},{"p":"c2","s":300,"k":"V","t":0.25,"y":2.82},{"p":"c2","s":300,"k":"V","t":0.28,"y":2.72},{"p":"c2","s":300,"k":"V","t":0.3,"y":2.64},{"p":"c2","s":300,"k":"V","t":0.31,"y":2.58},{"p":"c2","s":300,"k":"V","t":0.319,"y":2.5},
{"p":"c2","s":1,"k":"I","t":0,"y":23.7},{"p":"c2","s":1,"k":"I","t":0.65,"y":23.7},
{"p":"c2","s":100,"k":"I","t":0,"y":23.7},{"p":"c2","s":100,"k":"I","t":0.541,"y":23.7},
{"p":"c2","s":200,"k":"I","t":0,"y":23.7},{"p":"c2","s":200,"k":"I","t":0.453,"y":23.7},
{"p":"c2","s":300,"k":"I","t":0,"y":23.7},{"p":"c2","s":300,"k":"I","t":0.319,"y":23.7},

{"p":"d1","s":1,"k":"V","t":0,"y":3.2},{"p":"d1","s":1,"k":"V","t":0.01,"y":3.38},{"p":"d1","s":1,"k":"V","t":0.025,"y":3.55},{"p":"d1","s":1,"k":"V","t":0.04,"y":3.64},{"p":"d1","s":1,"k":"V","t":0.06,"y":3.69},{"p":"d1","s":1,"k":"V","t":0.08,"y":3.71},{"p":"d1","s":1,"k":"V","t":0.12,"y":3.73},{"p":"d1","s":1,"k":"V","t":0.16,"y":3.76},{"p":"d1","s":1,"k":"V","t":0.2,"y":3.79},{"p":"d1","s":1,"k":"V","t":0.25,"y":3.81},{"p":"d1","s":1,"k":"V","t":0.3,"y":3.83},{"p":"d1","s":1,"k":"V","t":0.35,"y":3.86},{"p":"d1","s":1,"k":"V","t":0.4,"y":3.9},{"p":"d1","s":1,"k":"V","t":0.45,"y":3.94},{"p":"d1","s":1,"k":"V","t":0.5,"y":3.98},{"p":"d1","s":1,"k":"V","t":0.55,"y":4.03},{"p":"d1","s":1,"k":"V","t":0.6,"y":4.1},{"p":"d1","s":1,"k":"V","t":0.643,"y":4.2},{"p":"d1","s":1,"k":"V","t":1,"y":4.2},
{"p":"d1","s":100,"k":"V","t":0,"y":3.2},{"p":"d1","s":100,"k":"V","t":0.01,"y":3.42},{"p":"d1","s":100,"k":"V","t":0.025,"y":3.6},{"p":"d1","s":100,"k":"V","t":0.04,"y":3.72},{"p":"d1","s":100,"k":"V","t":0.06,"y":3.78},{"p":"d1","s":100,"k":"V","t":0.08,"y":3.8},{"p":"d1","s":100,"k":"V","t":0.12,"y":3.83},{"p":"d1","s":100,"k":"V","t":0.16,"y":3.86},{"p":"d1","s":100,"k":"V","t":0.2,"y":3.89},{"p":"d1","s":100,"k":"V","t":0.25,"y":3.91},{"p":"d1","s":100,"k":"V","t":0.3,"y":3.94},{"p":"d1","s":100,"k":"V","t":0.35,"y":3.97},{"p":"d1","s":100,"k":"V","t":0.4,"y":4.02},{"p":"d1","s":100,"k":"V","t":0.45,"y":4.08},{"p":"d1","s":100,"k":"V","t":0.51,"y":4.2},{"p":"d1","s":100,"k":"V","t":1,"y":4.2},
{"p":"d1","s":200,"k":"V","t":0,"y":3.2},{"p":"d1","s":200,"k":"V","t":0.01,"y":3.43},{"p":"d1","s":200,"k":"V","t":0.025,"y":3.61},{"p":"d1","s":200,"k":"V","t":0.04,"y":3.73},{"p":"d1","s":200,"k":"V","t":0.06,"y":3.79},{"p":"d1","s":200,"k":"V","t":0.08,"y":3.81},{"p":"d1","s":200,"k":"V","t":0.12,"y":3.84},{"p":"d1","s":200,"k":"V","t":0.16,"y":3.87},{"p":"d1","s":200,"k":"V","t":0.2,"y":3.9},{"p":"d1","s":200,"k":"V","t":0.25,"y":3.93},{"p":"d1","s":200,"k":"V","t":0.3,"y":3.96},{"p":"d1","s":200,"k":"V","t":0.35,"y":4.0},{"p":"d1","s":200,"k":"V","t":0.4,"y":4.05},{"p":"d1","s":200,"k":"V","t":0.45,"y":4.13},{"p":"d1","s":200,"k":"V","t":0.485,"y":4.2},{"p":"d1","s":200,"k":"V","t":1,"y":4.2},
{"p":"d1","s":300,"k":"V","t":0,"y":3.2},{"p":"d1","s":300,"k":"V","t":0.01,"y":3.44},{"p":"d1","s":300,"k":"V","t":0.025,"y":3.62},{"p":"d1","s":300,"k":"V","t":0.04,"y":3.74},{"p":"d1","s":300,"k":"V","t":0.06,"y":3.8},{"p":"d1","s":300,"k":"V","t":0.08,"y":3.82},{"p":"d1","s":300,"k":"V","t":0.12,"y":3.85},{"p":"d1","s":300,"k":"V","t":0.16,"y":3.88},{"p":"d1","s":300,"k":"V","t":0.2,"y":3.91},{"p":"d1","s":300,"k":"V","t":0.25,"y":3.94},{"p":"d1","s":300,"k":"V","t":0.3,"y":3.98},{"p":"d1","s":300,"k":"V","t":0.35,"y":4.02},{"p":"d1","s":300,"k":"V","t":0.4,"y":4.08},{"p":"d1","s":300,"k":"V","t":0.46,"y":4.2},{"p":"d1","s":300,"k":"V","t":1,"y":4.2},
{"p":"d1","s":1,"k":"I","t":0,"y":25},{"p":"d1","s":1,"k":"I","t":0.65,"y":25},{"p":"d1","s":1,"k":"I","t":0.655,"y":20},{"p":"d1","s":1,"k":"I","t":0.665,"y":14},{"p":"d1","s":1,"k":"I","t":0.68,"y":9},{"p":"d1","s":1,"k":"I","t":0.7,"y":5.5},{"p":"d1","s":1,"k":"I","t":0.73,"y":3},{"p":"d1","s":1,"k":"I","t":0.77,"y":1.7},{"p":"d1","s":1,"k":"I","t":0.85,"y":0.9},{"p":"d1","s":1,"k":"I","t":1,"y":0.5},
{"p":"d1","s":100,"k":"I","t":0,"y":25},{"p":"d1","s":100,"k":"I","t":0.515,"y":25},{"p":"d1","s":100,"k":"I","t":0.53,"y":21},{"p":"d1","s":100,"k":"I","t":0.55,"y":17},{"p":"d1","s":100,"k":"I","t":0.58,"y":13},{"p":"d1","s":100,"k":"I","t":0.61,"y":9.5},{"p":"d1","s":100,"k":"I","t":0.64,"y":7},{"p":"d1","s":100,"k":"I","t":0.68,"y":4.8},{"p":"d1","s":100,"k":"I","t":0.73,"y":2.9},{"p":"d1","s":100,"k":"I","t":0.8,"y":1.5},{"p":"d1","s":100,"k":"I","t":0.88,"y":0.8},{"p":"d1","s":100,"k":"I","t":1,"y":0.5},
{"p":"d1","s":200,"k":"I","t":0,"y":25},{"p":"d1","s":200,"k":"I","t":0.49,"y":25},{"p":"d1","s":200,"k":"I","t":0.505,"y":21},{"p":"d1","s":200,"k":"I","t":0.525,"y":17},{"p":"d1","s":200,"k":"I","t":0.555,"y":13.5},{"p":"d1","s":200,"k":"I","t":0.59,"y":10},{"p":"d1","s":200,"k":"I","t":0.62,"y":7.5},{"p":"d1","s":200,"k":"I","t":0.66,"y":5.2},{"p":"d1","s":200,"k":"I","t":0.72,"y":3},{"p":"d1","s":200,"k":"I","t":0.79,"y":1.6},{"p":"d1","s":200,"k":"I","t":0.87,"y":0.9},{"p":"d1","s":200,"k":"I","t":1,"y":0.5},
{"p":"d1","s":300,"k":"I","t":0,"y":25},{"p":"d1","s":300,"k":"I","t":0.465,"y":25},{"p":"d1","s":300,"k":"I","t":0.48,"y":21},{"p":"d1","s":300,"k":"I","t":0.5,"y":17},{"p":"d1","s":300,"k":"I","t":0.53,"y":13.5},{"p":"d1","s":300,"k":"I","t":0.57,"y":10},{"p":"d1","s":300,"k":"I","t":0.6,"y":7.5},{"p":"d1","s":300,"k":"I","t":0.64,"y":5.2},{"p":"d1","s":300,"k":"I","t":0.7,"y":3},{"p":"d1","s":300,"k":"I","t":0.77,"y":1.6},{"p":"d1","s":300,"k":"I","t":0.85,"y":0.9},{"p":"d1","s":300,"k":"I","t":1,"y":0.5},

{"p":"d2","s":1,"k":"V","t":0,"y":4.19},{"p":"d2","s":1,"k":"V","t":0.05,"y":4.11},{"p":"d2","s":1,"k":"V","t":0.1,"y":4.03},{"p":"d2","s":1,"k":"V","t":0.15,"y":3.96},{"p":"d2","s":1,"k":"V","t":0.2,"y":3.89},{"p":"d2","s":1,"k":"V","t":0.25,"y":3.84},{"p":"d2","s":1,"k":"V","t":0.3,"y":3.8},{"p":"d2","s":1,"k":"V","t":0.35,"y":3.77},{"p":"d2","s":1,"k":"V","t":0.4,"y":3.74},{"p":"d2","s":1,"k":"V","t":0.45,"y":3.72},{"p":"d2","s":1,"k":"V","t":0.5,"y":3.69},{"p":"d2","s":1,"k":"V","t":0.55,"y":3.66},{"p":"d2","s":1,"k":"V","t":0.6,"y":3.62},{"p":"d2","s":1,"k":"V","t":0.62,"y":3.57},{"p":"d2","s":1,"k":"V","t":0.635,"y":3.4},{"p":"d2","s":1,"k":"V","t":0.648,"y":3.1},{"p":"d2","s":1,"k":"V","t":0.656,"y":2.8},{"p":"d2","s":1,"k":"V","t":0.662,"y":2.5},
{"p":"d2","s":100,"k":"V","t":0,"y":4.16},{"p":"d2","s":100,"k":"V","t":0.05,"y":4.08},{"p":"d2","s":100,"k":"V","t":0.1,"y":4.0},{"p":"d2","s":100,"k":"V","t":0.15,"y":3.92},{"p":"d2","s":100,"k":"V","t":0.2,"y":3.85},{"p":"d2","s":100,"k":"V","t":0.25,"y":3.8},{"p":"d2","s":100,"k":"V","t":0.3,"y":3.76},{"p":"d2","s":100,"k":"V","t":0.35,"y":3.72},{"p":"d2","s":100,"k":"V","t":0.4,"y":3.68},{"p":"d2","s":100,"k":"V","t":0.45,"y":3.64},{"p":"d2","s":100,"k":"V","t":0.5,"y":3.6},{"p":"d2","s":100,"k":"V","t":0.53,"y":3.55},{"p":"d2","s":100,"k":"V","t":0.55,"y":3.45},{"p":"d2","s":100,"k":"V","t":0.565,"y":3.2},{"p":"d2","s":100,"k":"V","t":0.574,"y":2.85},{"p":"d2","s":100,"k":"V","t":0.58,"y":2.5},
{"p":"d2","s":200,"k":"V","t":0,"y":4.15},{"p":"d2","s":200,"k":"V","t":0.05,"y":4.07},{"p":"d2","s":200,"k":"V","t":0.1,"y":3.99},{"p":"d2","s":200,"k":"V","t":0.15,"y":3.91},{"p":"d2","s":200,"k":"V","t":0.2,"y":3.84},{"p":"d2","s":200,"k":"V","t":0.25,"y":3.79},{"p":"d2","s":200,"k":"V","t":0.3,"y":3.75},{"p":"d2","s":200,"k":"V","t":0.35,"y":3.71},{"p":"d2","s":200,"k":"V","t":0.4,"y":3.67},{"p":"d2","s":200,"k":"V","t":0.45,"y":3.63},{"p":"d2","s":200,"k":"V","t":0.48,"y":3.59},{"p":"d2","s":200,"k":"V","t":0.5,"y":3.53},{"p":"d2","s":200,"k":"V","t":0.52,"y":3.3},{"p":"d2","s":200,"k":"V","t":0.532,"y":2.9},{"p":"d2","s":200,"k":"V","t":0.54,"y":2.5},
{"p":"d2","s":300,"k":"V","t":0,"y":4.14},{"p":"d2","s":300,"k":"V","t":0.05,"y":4.06},{"p":"d2","s":300,"k":"V","t":0.1,"y":3.98},{"p":"d2","s":300,"k":"V","t":0.15,"y":3.9},{"p":"d2","s":300,"k":"V","t":0.2,"y":3.83},{"p":"d2","s":300,"k":"V","t":0.25,"y":3.78},{"p":"d2","s":300,"k":"V","t":0.3,"y":3.74},{"p":"d2","s":300,"k":"V","t":0.35,"y":3.7},{"p":"d2","s":300,"k":"V","t":0.4,"y":3.66},{"p":"d2","s":300,"k":"V","t":0.45,"y":3.61},{"p":"d2","s":300,"k":"V","t":0.47,"y":3.57},{"p":"d2","s":300,"k":"V","t":0.49,"y":3.45},{"p":"d2","s":300,"k":"V","t":0.5,"y":3.25},{"p":"d2","s":300,"k":"V","t":0.508,"y":2.9},{"p":"d2","s":300,"k":"V","t":0.515,"y":2.5},
{"p":"d2","s":1,"k":"I","t":0,"y":25},{"p":"d2","s":1,"k":"I","t":0.662,"y":25},
{"p":"d2","s":100,"k":"I","t":0,"y":25},{"p":"d2","s":100,"k":"I","t":0.58,"y":25},
{"p":"d2","s":200,"k":"I","t":0,"y":25},{"p":"d2","s":200,"k":"I","t":0.54,"y":25},
{"p":"d2","s":300,"k":"I","t":0,"y":25},{"p":"d2","s":300,"k":"I","t":0.515,"y":25}
]},
"spacing":181,
"bounds":"flush",
"resolve":{"scale":{"color":"independent","x":"independent","y":"independent"},"legend":{"color":"independent"}},
"vconcat":[
{"hconcat":[
{"width":194,"height":132,"title":{"text":"(a)","anchor":"start","frame":"group","dx":-70,"baseline":"top","offset":-18},
"transform":[{"filter":"datum.p=='a1'"}],
"encoding":{"x":{"field":"t","type":"quantitative","scale":{"domain":[0,1],"nice":false},"axis":{"values":[0,0.2,0.4,0.6,0.8,1],"format":"~g","title":"Time (hr)","labelPadding":7,"titlePadding":4}},
"color":{"field":"s","type":"nominal","scale":{"domain":[1,100,200,300],"range":["#585858","#8390a0","#62b3a8","#9c9cb6"]},"legend":{"orient":"none","legendX":149,"legendY":43,"title":null,"labelExpr":"datum.label + ' cycle'"}}},
"layer":[
{"transform":[{"filter":"datum.k=='V'"}],"mark":{"type":"line","strokeWidth":1.4,"interpolate":"monotone"},"encoding":{"y":{"field":"y","type":"quantitative","scale":{"domain":[3.2,4.4],"nice":false,"zero":false},"axis":{"values":[3.2,3.4,3.6,3.8,4,4.2,4.4],"format":"~g","title":"Voltage (V)","labelPadding":7,"titlePadding":6}}}},
{"transform":[{"filter":"datum.k=='I'"}],"mark":{"type":"line","strokeWidth":1.3,"interpolate":"monotone","opacity":0.6},"encoding":{"y":{"field":"y","type":"quantitative","scale":{"domain":[0,30],"nice":false},"axis":{"orient":"right","values":[0,5,10,15,20,25,30],"format":"~g","title":"Current (µA)","titleAngle":270,"labelPadding":4,"titlePadding":21}}}}
],
"resolve":{"scale":{"y":"independent"}}},
{"width":193,"height":132,
"transform":[{"filter":"datum.p=='a2'"}],
"encoding":{"x":{"field":"t","type":"quantitative","scale":{"domain":[0,0.8],"nice":false},"axis":{"values":[0,0.2,0.4,0.6,0.8],"format":"~g","title":"Time (hr)","labelPadding":7,"titlePadding":4}},
"color":{"field":"s","type":"nominal","scale":{"domain":[1,100,200,300],"range":["#585858","#8390a0","#62b3a8","#9c9cb6"]},"legend":{"orient":"none","legendX":4,"legendY":97,"title":null,"labelExpr":"datum.label + ' cycle'"}}},
"layer":[
{"transform":[{"filter":"datum.k=='V'"}],"mark":{"type":"line","strokeWidth":1.4,"interpolate":"monotone"},"encoding":{"y":{"field":"y","type":"quantitative","scale":{"domain":[2.5,4.3],"nice":false,"zero":false},"axis":{"values":[2.5,2.7,2.9,3.1,3.3,3.5,3.7,3.9,4.1,4.3],"format":"~g","title":"Voltage (V)","labelPadding":8,"titlePadding":6}}}},
{"transform":[{"filter":"datum.k=='I'"}],"mark":{"type":"line","strokeWidth":1.3,"opacity":0.8},"encoding":{"y":{"field":"y","type":"quantitative","scale":{"domain":[0,30],"nice":false},"axis":{"orient":"right","values":[0,5,10,15,20,25,30],"format":"~g","title":"Current (µA)","titleAngle":270,"labelPadding":8,"titlePadding":20}},"strokeDash":{"field":"s","type":"nominal","scale":{"domain":[1,100,200,300],"range":[[1,0],[4,2],[4,2],[4,2]]},"legend":null}}}
],
"resolve":{"scale":{"y":"independent"}}}
],"spacing":84,"bounds":"flush","resolve":{"scale":{"color":"independent","x":"independent","y":"independent"},"legend":{"color":"independent"}}},
{"hconcat":[
{"width":194,"height":132,"title":{"text":"(b)","anchor":"start","frame":"group","dx":-70,"baseline":"top","offset":-18},
"transform":[{"filter":"datum.p=='b1'"}],
"encoding":{"x":{"field":"t","type":"quantitative","scale":{"domain":[0,1],"nice":false},"axis":{"values":[0,0.2,0.4,0.6,0.8,1],"format":"~g","title":"Time (hr)","labelPadding":7,"titlePadding":4}},
"color":{"field":"s","type":"nominal","scale":{"domain":[1,100,200,300],"range":["#585858","#8390a0","#62b3a8","#9c9cb6"]},"legend":{"orient":"none","legendX":149,"legendY":43,"title":null,"labelExpr":"datum.label + ' cycle'"}}},
"layer":[
{"transform":[{"filter":"datum.k=='V'"}],"mark":{"type":"line","strokeWidth":1.4,"interpolate":"monotone"},"encoding":{"y":{"field":"y","type":"quantitative","scale":{"domain":[3.2,4.4],"nice":false,"zero":false},"axis":{"values":[3.2,3.4,3.6,3.8,4,4.2,4.4],"format":"~g","title":"Voltage (V)","labelPadding":7,"titlePadding":6}}}},
{"transform":[{"filter":"datum.k=='I'"}],"mark":{"type":"line","strokeWidth":1.3,"interpolate":"monotone","opacity":0.6},"encoding":{"y":{"field":"y","type":"quantitative","scale":{"domain":[0,30],"nice":false},"axis":{"orient":"right","values":[0,5,10,15,20,25,30],"format":"~g","title":"Current (µA)","titleAngle":270,"labelPadding":4,"titlePadding":21}}}}
],
"resolve":{"scale":{"y":"independent"}}},
{"width":193,"height":132,
"transform":[{"filter":"datum.p=='b2'"}],
"encoding":{"x":{"field":"t","type":"quantitative","scale":{"domain":[0,0.8],"nice":false},"axis":{"values":[0,0.2,0.4,0.6,0.8],"format":"~g","title":"Time (hr)","labelPadding":7,"titlePadding":4}},
"color":{"field":"s","type":"nominal","scale":{"domain":[1,100,200,300],"range":["#585858","#8390a0","#62b3a8","#9c9cb6"]},"legend":{"orient":"none","legendX":4,"legendY":97,"title":null,"labelExpr":"datum.label + ' cycle'"}}},
"layer":[
{"transform":[{"filter":"datum.k=='V'"}],"mark":{"type":"line","strokeWidth":1.4,"interpolate":"monotone"},"encoding":{"y":{"field":"y","type":"quantitative","scale":{"domain":[2.5,4.3],"nice":false,"zero":false},"axis":{"values":[2.5,2.7,2.9,3.1,3.3,3.5,3.7,3.9,4.1,4.3],"format":"~g","title":"Voltage (V)","labelPadding":8,"titlePadding":6}}}},
{"transform":[{"filter":"datum.k=='I'"}],"mark":{"type":"line","strokeWidth":1.3,"opacity":0.8},"encoding":{"y":{"field":"y","type":"quantitative","scale":{"domain":[0,30],"nice":false},"axis":{"orient":"right","values":[0,5,10,15,20,25,30],"format":"~g","title":"Current (µA)","titleAngle":270,"labelPadding":8,"titlePadding":20}},"strokeDash":{"field":"s","type":"nominal","scale":{"domain":[1,100,200,300],"range":[[1,0],[4,2],[4,2],[4,2]]},"legend":null}}}
],
"resolve":{"scale":{"y":"independent"}}}
],"spacing":84,"bounds":"flush","resolve":{"scale":{"color":"independent","x":"independent","y":"independent"},"legend":{"color":"independent"}}},
{"hconcat":[
{"width":194,"height":132,"title":{"text":"(c)","anchor":"start","frame":"group","dx":-70,"baseline":"top","offset":-18},
"transform":[{"filter":"datum.p=='c1'"}],
"encoding":{"x":{"field":"t","type":"quantitative","scale":{"domain":[0,1],"nice":false},"axis":{"values":[0,0.2,0.4,0.6,0.8,1],"format":"~g","title":"Time (hr)","labelPadding":7,"titlePadding":4}},
"color":{"field":"s","type":"nominal","scale":{"domain":[1,100,200,300],"range":["#585858","#8390a0","#62b3a8","#9c9cb6"]},"legend":{"orient":"none","legendX":149,"legendY":43,"title":null,"labelExpr":"datum.label + ' cycle'"}}},
"layer":[
{"transform":[{"filter":"datum.k=='V'"}],"mark":{"type":"line","strokeWidth":1.4,"interpolate":"monotone"},"encoding":{"y":{"field":"y","type":"quantitative","scale":{"domain":[3.2,4.4],"nice":false,"zero":false},"axis":{"values":[3.2,3.4,3.6,3.8,4,4.2,4.4],"format":"~g","title":"Voltage (V)","labelPadding":7,"titlePadding":6}}}},
{"transform":[{"filter":"datum.k=='I'"}],"mark":{"type":"line","strokeWidth":1.3,"interpolate":"monotone","opacity":0.6},"encoding":{"y":{"field":"y","type":"quantitative","scale":{"domain":[0,30],"nice":false},"axis":{"orient":"right","values":[0,5,10,15,20,25,30],"format":"~g","title":"Current (µA)","titleAngle":270,"labelPadding":4,"titlePadding":21}}}}
],
"resolve":{"scale":{"y":"independent"}}},
{"width":193,"height":132,
"transform":[{"filter":"datum.p=='c2'"}],
"encoding":{"x":{"field":"t","type":"quantitative","scale":{"domain":[0,0.8],"nice":false},"axis":{"values":[0,0.2,0.4,0.6,0.8],"format":"~g","title":"Time (hr)","labelPadding":7,"titlePadding":4}},
"color":{"field":"s","type":"nominal","scale":{"domain":[1,100,200,300],"range":["#585858","#8390a0","#62b3a8","#9c9cb6"]},"legend":{"orient":"none","legendX":4,"legendY":97,"title":null,"labelExpr":"datum.label + ' cycle'"}}},
"layer":[
{"transform":[{"filter":"datum.k=='V'"}],"mark":{"type":"line","strokeWidth":1.4,"interpolate":"monotone"},"encoding":{"y":{"field":"y","type":"quantitative","scale":{"domain":[2.5,4.3],"nice":false,"zero":false},"axis":{"values":[2.5,2.7,2.9,3.1,3.3,3.5,3.7,3.9,4.1,4.3],"format":"~g","title":"Voltage (V)","labelPadding":8,"titlePadding":6}}}},
{"transform":[{"filter":"datum.k=='I'"}],"mark":{"type":"line","strokeWidth":1.3,"opacity":0.8},"encoding":{"y":{"field":"y","type":"quantitative","scale":{"domain":[0,30],"nice":false},"axis":{"orient":"right","values":[0,5,10,15,20,25,30],"format":"~g","title":"Current (µA)","titleAngle":270,"labelPadding":8,"titlePadding":20}},"strokeDash":{"field":"s","type":"nominal","scale":{"domain":[1,100,200,300],"range":[[1,0],[4,2],[4,2],[4,2]]},"legend":null}}}
],
"resolve":{"scale":{"y":"independent"}}}
],"spacing":84,"bounds":"flush","resolve":{"scale":{"color":"independent","x":"independent","y":"independent"},"legend":{"color":"independent"}}},
{"hconcat":[
{"width":194,"height":132,"title":{"text":"(d)","anchor":"start","frame":"group","dx":-70,"baseline":"top","offset":-18},
"transform":[{"filter":"datum.p=='d1'"}],
"encoding":{"x":{"field":"t","type":"quantitative","scale":{"domain":[0,1],"nice":false},"axis":{"values":[0,0.2,0.4,0.6,0.8,1],"format":"~g","title":"Time (hr)","labelPadding":7,"titlePadding":4}},
"color":{"field":"s","type":"nominal","scale":{"domain":[1,100,200,300],"range":["#585858","#8390a0","#62b3a8","#9c9cb6"]},"legend":{"orient":"none","legendX":149,"legendY":43,"title":null,"labelExpr":"datum.label + ' cycle'"}}},
"layer":[
{"transform":[{"filter":"datum.k=='V'"}],"mark":{"type":"line","strokeWidth":1.4,"interpolate":"monotone"},"encoding":{"y":{"field":"y","type":"quantitative","scale":{"domain":[3.2,4.4],"nice":false,"zero":false},"axis":{"values":[3.2,3.4,3.6,3.8,4,4.2,4.4],"format":"~g","title":"Voltage (V)","labelPadding":7,"titlePadding":6}}}},
{"transform":[{"filter":"datum.k=='I'"}],"mark":{"type":"line","strokeWidth":1.3,"interpolate":"monotone","opacity":0.6},"encoding":{"y":{"field":"y","type":"quantitative","scale":{"domain":[0,30],"nice":false},"axis":{"orient":"right","values":[0,5,10,15,20,25,30],"format":"~g","title":"Current (µA)","titleAngle":270,"labelPadding":4,"titlePadding":21}}}}
],
"resolve":{"scale":{"y":"independent"}}},
{"width":193,"height":132,
"transform":[{"filter":"datum.p=='d2'"}],
"encoding":{"x":{"field":"t","type":"quantitative","scale":{"domain":[0,0.8],"nice":false},"axis":{"values":[0,0.2,0.4,0.6,0.8],"format":"~g","title":"Time (hr)","labelPadding":7,"titlePadding":4}},
"color":{"field":"s","type":"nominal","scale":{"domain":[1,100,200,300],"range":["#585858","#8390a0","#62b3a8","#9c9cb6"]},"legend":{"orient":"none","legendX":4,"legendY":97,"title":null,"labelExpr":"datum.label + ' cycle'"}}},
"layer":[
{"transform":[{"filter":"datum.k=='V'"}],"mark":{"type":"line","strokeWidth":1.4,"interpolate":"monotone"},"encoding":{"y":{"field":"y","type":"quantitative","scale":{"domain":[2.5,4.3],"nice":false,"zero":false},"axis":{"values":[2.5,2.7,2.9,3.1,3.3,3.5,3.7,3.9,4.1,4.3],"format":"~g","title":"Voltage (V)","labelPadding":8,"titlePadding":6}}}},
{"transform":[{"filter":"datum.k=='I'"}],"mark":{"type":"line","strokeWidth":1.3,"opacity":0.8},"encoding":{"y":{"field":"y","type":"quantitative","scale":{"domain":[0,30],"nice":false},"axis":{"orient":"right","values":[0,5,10,15,20,25,30],"format":"~g","title":"Current (µA)","titleAngle":270,"labelPadding":8,"titlePadding":20}},"strokeDash":{"field":"s","type":"nominal","scale":{"domain":[1,100,200,300],"range":[[1,0],[4,2],[4,2],[4,2]]},"legend":null}}}
],
"resolve":{"scale":{"y":"independent"}}}
],"spacing":84,"bounds":"flush","resolve":{"scale":{"color":"independent","x":"independent","y":"independent"},"legend":{"color":"independent"}}}
]
}
